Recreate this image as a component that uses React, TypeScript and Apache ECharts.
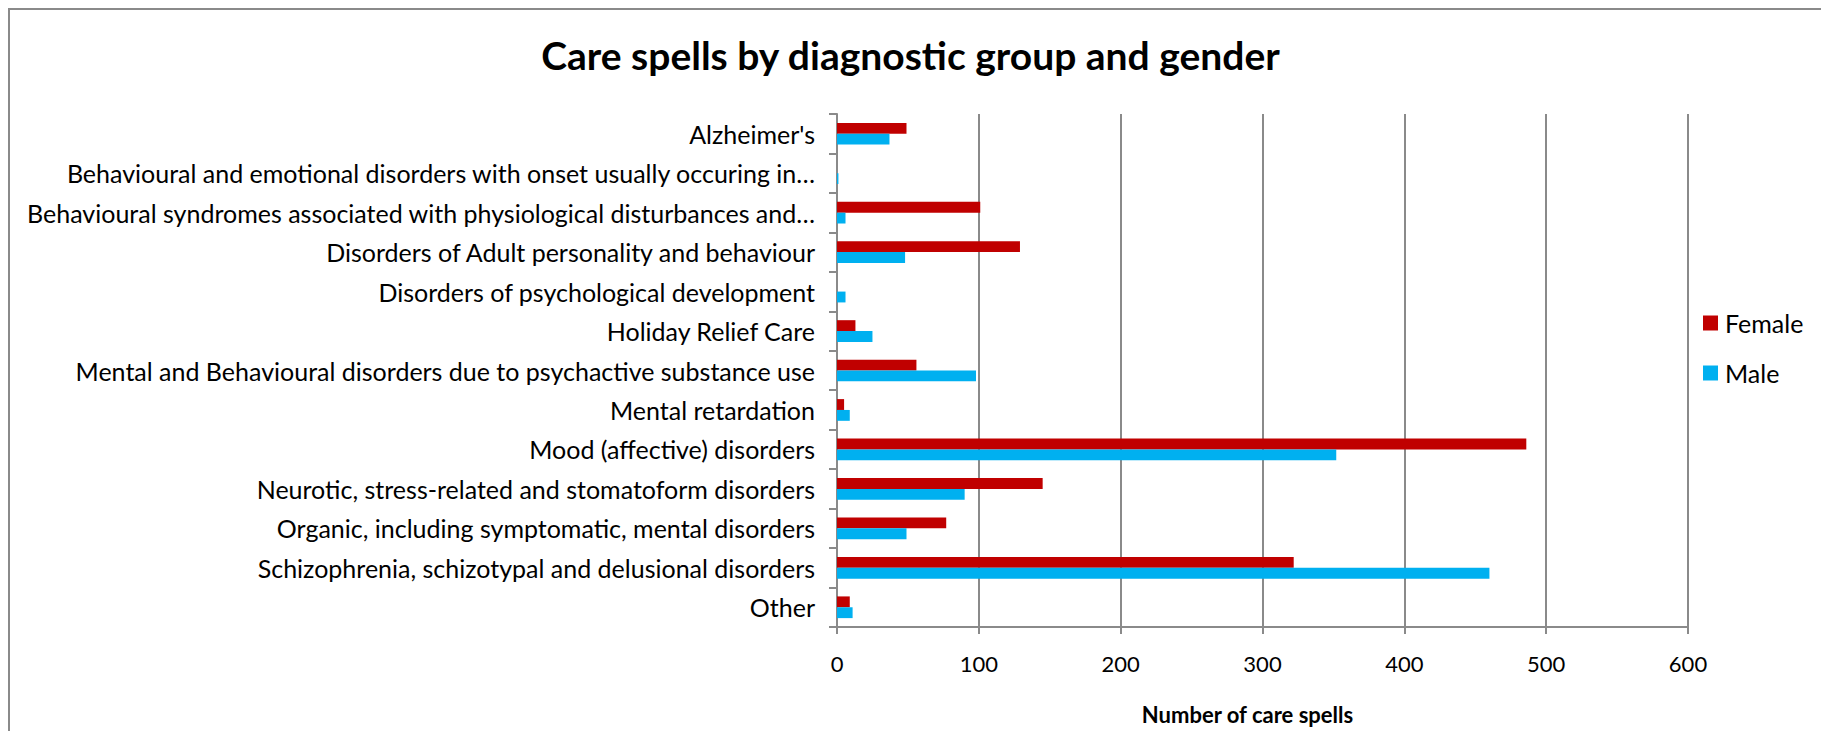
import React, { useEffect, useRef } from "react";
import * as echarts from "echarts";

const categories = [
  "Alzheimer's",
  "Behavioural and emotional disorders with onset usually occuring in…",
  "Behavioural syndromes associated with physiological disturbances and…",
  "Disorders of Adult personality and behaviour",
  "Disorders of psychological development",
  "Holiday Relief Care",
  "Mental and Behavioural disorders due to psychactive substance use",
  "Mental retardation",
  "Mood (affective) disorders",
  "Neurotic, stress-related and stomatoform disorders",
  "Organic, including symptomatic, mental disorders",
  "Schizophrenia, schizotypal and delusional disorders",
  "Other",
];
const femaleValues = [49, 0, 101, 129, 0, 13, 56, 5, 486, 145, 77, 322, 9];
const maleValues = [37, 1, 6, 48, 6, 25, 98, 9, 352, 90, 49, 460, 11];
const seriesNames = ["Female", "Male"];
const titleText = "Care spells by diagnostic group and gender";
const xAxisName = "Number of care spells";

const FONT = "Lato, 'Open Sans', sans-serif";
const GREY = "#8a8a8a";

export default function App() {
  const ref = useRef<HTMLDivElement>(null);
  useEffect(() => {
    if (!ref.current) return;
    const chart = echarts.init(ref.current, undefined, { renderer: "svg" });
    chart.setOption({
      animation: false,
      textStyle: { fontFamily: FONT, color: "#000" },
      title: {
        text: titleText,
        left: "center",
        top: 30,
        textStyle: { fontFamily: FONT, fontSize: 39, fontWeight: "bold", color: "#000" },
      },
      legend: {
        orient: "vertical",
        left: 1698,
        top: 305,
        itemWidth: 15,
        itemHeight: 15,
        itemGap: 24,
        icon: "rect",
        data: seriesNames,
        textStyle: { fontFamily: FONT, fontSize: 25, lineHeight: 26, color: "#000", padding: [0, 0, 0, 2] },
      },
      grid: { left: 837, right: 133, top: 114, bottom: 104, containLabel: false },
      xAxis: {
        type: "value",
        min: 0,
        max: 600,
        interval: 100,
        name: xAxisName,
        nameLocation: "middle",
        nameGap: 76,
        nameTextStyle: { fontFamily: FONT, fontSize: 22, fontWeight: "bold", color: "#000", padding: [0, 30, 0, 0] },
        axisLine: { show: true, lineStyle: { color: GREY, width: 2 } },
        axisTick: { show: true, length: 7, lineStyle: { color: GREY, width: 2 } },
        axisLabel: { margin: 25, fontFamily: FONT, fontSize: 22, color: "#000" },
        splitLine: { show: true, lineStyle: { color: GREY, width: 2 } },
      },
      yAxis: {
        type: "category",
        data: categories,
        inverse: true,
        axisLine: { show: true, lineStyle: { color: GREY, width: 2 } },
        axisTick: { show: true, length: 8, lineStyle: { color: GREY, width: 2 } },
        axisLabel: { margin: 22, fontFamily: FONT, fontSize: 25, color: "#000", padding: [0, 0, 4, 0] },
        splitLine: { show: false },
      },
      series: [
        {
          name: seriesNames[0],
          type: "bar",
          data: femaleValues,
          itemStyle: { color: "#C00000" },
          barCategoryGap: "45%",
          barGap: "0%",
        },
        {
          name: seriesNames[1],
          type: "bar",
          data: maleValues,
          itemStyle: { color: "#00B0F0" },
          barCategoryGap: "45%",
          barGap: "0%",
        },
      ],
      graphic: [
        { type: "line", shape: { x1: 8, y1: 9, x2: 1821, y2: 9 }, style: { stroke: GREY, lineWidth: 2 } },
        { type: "line", shape: { x1: 9, y1: 8, x2: 9, y2: 731 }, style: { stroke: GREY, lineWidth: 2 } },
      ],
    });
    return () => chart.dispose();
  }, []);
  return (
    <div
      ref={ref}
      style={{ position: "absolute", left: 0, top: 0, width: 1821, height: 731, background: "#fff" }}
    />
  );
}
